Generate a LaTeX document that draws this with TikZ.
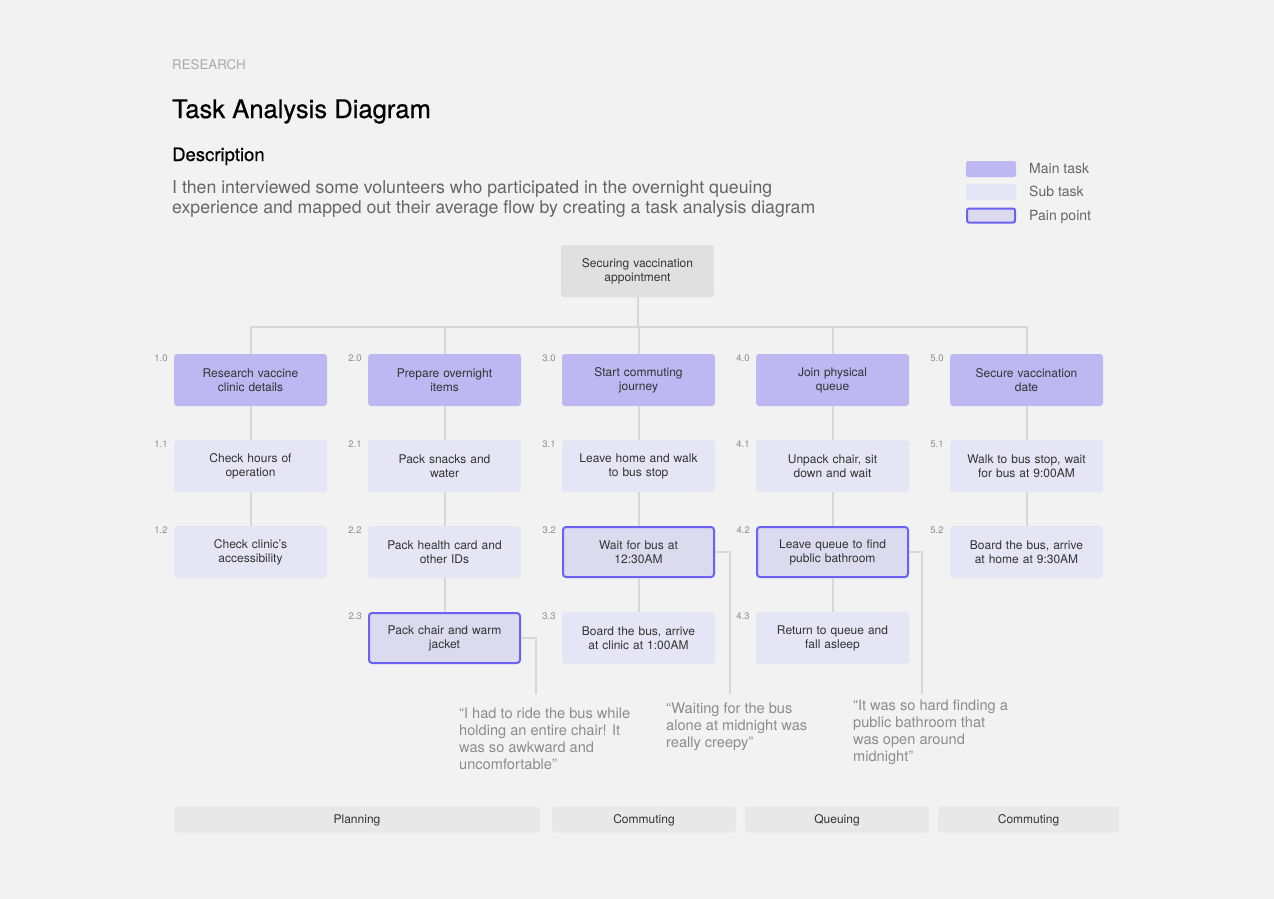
\documentclass[tikz,border=0pt]{standalone}
\usepackage{fontspec}
\setmainfont{TeX Gyre Heros}
\newfontfamily\headfont[FakeBold=0.6]{TeX Gyre Heros}
\definecolor{bggray}{HTML}{F2F2F2}
\definecolor{maintask}{HTML}{BDB8F2}
\definecolor{subtask}{HTML}{E6E5F5}
\definecolor{painfill}{HTML}{DCDAEE}
\definecolor{painedge}{HTML}{6A62F6}
\definecolor{rootgray}{HTML}{E0E0E0}
\definecolor{linegray}{HTML}{D7D7D7}
\definecolor{bargray}{HTML}{E8E8E8}
\definecolor{boxtext}{HTML}{333333}
\definecolor{softtext}{HTML}{666666}
\definecolor{quotetext}{HTML}{8C8C8C}
\begin{document}
\begin{tikzpicture}[x=1pt,y=-1pt,
  box/.style={rounded corners=3pt,minimum width=153pt,minimum height=52pt,text width=145pt,
    align=center,inner sep=0pt,font=\fontsize{12}{14}\selectfont,text=boxtext},
  root/.style={box,fill=rootgray},
  main/.style={box,fill=maintask},
  sub/.style={box,fill=subtask},
  pain/.style={box,fill=painfill,draw=painedge,line width=2pt,minimum width=151pt,minimum height=50pt},
  conn/.style={draw=linegray,line width=2pt},
  num/.style={font=\fontsize{9.5}{11}\selectfont,text=quotetext,inner sep=0pt,anchor=north east},
  quote/.style={font=\fontsize{14.6}{17}\selectfont,text=quotetext,inner sep=0pt,anchor=north west,align=left},
  phase/.style={fill=bargray,rounded corners=3pt,minimum height=26pt,inner sep=0pt,text height=9pt,text depth=1pt,
    font=\fontsize{12}{14}\selectfont,text=boxtext},
  swatch/.style={rounded corners=2pt,minimum width=50pt,minimum height=16pt,inner sep=0pt},
  legtext/.style={font=\fontsize{14}{17}\selectfont,text=softtext,inner sep=0pt,anchor=base west}]
\fill[bggray] (0,0) rectangle (1274,899);
\useasboundingbox (0,0) rectangle (1274,899);

% heading
\node[font=\fontsize{13.3}{16}\selectfont,text=quotetext!75,inner sep=0pt,anchor=base west] (kicker) at (172,70) {RESEARCH};
\node[font=\headfont\fontsize{25.6}{29}\selectfont,inner sep=0pt,anchor=base west] (title) at (172,118) {Task Analysis Diagram};
\node[font=\headfont\fontsize{18.5}{22}\selectfont,inner sep=0pt,anchor=base west] (desc) at (172,161) {Description};
\node[font=\fontsize{17.7}{20}\selectfont,text=softtext,inner sep=0pt,anchor=north west,align=left] (body) at (172,180)
  {I then interviewed some volunteers who participated in the overnight queuing\\
   experience and mapped out their average flow by creating a task analysis diagram};

% legend
\node[swatch,fill=maintask] (lmain) at (991,169) {};
\node[swatch,fill=subtask] (lsub) at (991,192) {};
\node[swatch,fill=painfill,draw=painedge,line width=2pt,minimum width=48pt,minimum height=14pt] (lpain) at (991,215.5) {};
\node[legtext] at (1029,173) {Main task};
\node[legtext] at (1029,196) {Sub task};
\node[legtext] at (1029,220.5) {Pain point};

% tree
\node[root] (r) at (637.5,271) {Securing vaccination\\appointment};
\node[main] (m1) at (250.5,380) {Research vaccine\\clinic details};
\node[main] (m2) at (444.5,380) {Prepare overnight\\items};
\node[main] (m3) at (638.5,380) {Start commuting\\journey};
\node[main] (m4) at (832.5,380) {Join physical\\queue};
\node[main] (m5) at (1026.5,380) {Secure vaccination\\date};

\node[sub] (s11) at (250.5,466) {Check hours of\\operation};
\node[sub] (s12) at (250.5,552) {Check clinic's\\accessibility};
\node[sub] (s21) at (444.5,466) {Pack snacks and\\water};
\node[sub] (s22) at (444.5,552) {Pack health card and\\other IDs};
\node[pain] (s23) at (444.5,638) {Pack chair and warm\\jacket};
\node[sub] (s31) at (638.5,466) {Leave home and walk\\to bus stop};
\node[pain] (s32) at (638.5,552) {Wait for bus at\\12:30AM};
\node[sub] (s33) at (638.5,638) {Board the bus, arrive\\at clinic at 1:00AM};
\node[sub] (s41) at (832.5,466) {Unpack chair, sit\\down and wait};
\node[pain] (s42) at (832.5,552) {Leave queue to find\\public bathroom};
\node[sub] (s43) at (832.5,638) {Return to queue and\\fall asleep};
\node[sub] (s51) at (1026.5,466) {Walk to bus stop, wait\\for bus at 9:00AM};
\node[sub] (s52) at (1026.5,552) {Board the bus, arrive\\at home at 9:30AM};

% step numbers
\foreach \n/\t in {m1/1.0,m2/2.0,m3/3.0,m4/4.0,m5/5.0,s11/1.1,s12/1.2,s21/2.1,s22/2.2,s23/2.3,
  s31/3.1,s32/3.2,s33/3.3,s41/4.1,s42/4.2,s43/4.3,s51/5.1,s52/5.2}
  \node[num] at ([shift={(-6,1)}]\n.north west) {\t};

% connectors
\coordinate (bus) at (637.5,327);
\draw[conn] (r.south) -- (bus);
\foreach \c in {m1,m2,m3,m4,m5}
  \draw[conn] (\c.north) |- (bus);
\draw[conn] (m1) -- (s11) -- (s12);
\draw[conn] (m2) -- (s21) -- (s22) -- (s23);
\draw[conn] (m3) -- (s31) -- (s32) -- (s33);
\draw[conn] (m4) -- (s41) -- (s42) -- (s43);
\draw[conn] (m5) -- (s51) -- (s52);

% pain point quotes
\coordinate (q1) at (536,694);
\coordinate (q2) at (730,694);
\coordinate (q3) at (922,694);
\draw[conn] (s23.east) -| (q1);
\draw[conn] (s32.east) -| (q2);
\draw[conn] (s42.east) -| (q3);
\node[quote] (t1) at (459,708) {“I had to ride the bus while\\holding an entire chair! It\\was so awkward and\\uncomfortable”};
\node[quote] (t2) at (666,703) {“Waiting for the bus\\alone at midnight was\\really creepy”};
\node[quote] (t3) at (853,700) {“It was so hard finding a\\public bathroom that\\was open around\\midnight”};

% phases
\node[phase,minimum width=366pt] (p1) at (357,819.5) {Planning};
\node[phase,minimum width=184pt] (p2) at (644,819.5) {Commuting};
\node[phase,minimum width=184pt] (p3) at (837,819.5) {Queuing};
\node[phase,minimum width=181pt] (p4) at (1028.5,819.5) {Commuting};
\end{tikzpicture}
\end{document}
